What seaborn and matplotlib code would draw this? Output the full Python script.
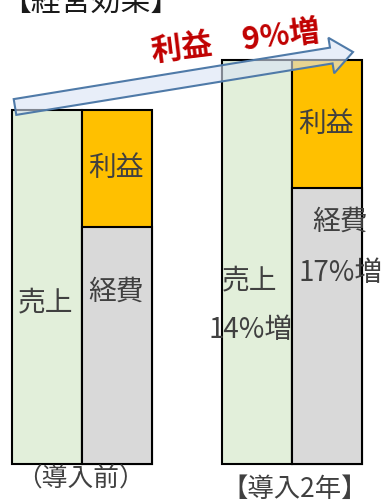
import numpy as np
import pandas as pd
import matplotlib
matplotlib.use("Agg")
import matplotlib.pyplot as plt
import matplotlib.patches as mpatches
import seaborn as sns

sns.set_theme(style="white")
plt.rcParams['font.family'] = ['Noto Sans CJK JP', 'DejaVu Sans']

# bar slots (the empty one is the gap between the two groups)
slots = ["売上(前)", "費用(前)", "", "売上(2年)", "費用(2年)"]
sales_slots = ["売上(前)", "売上(2年)"]
cost_slots = ["費用(前)", "費用(2年)"]

sales = [100, 114]   # 売上
expense = [67, 78]   # 経費
profit = [33, 36]    # 利益
total = [e + p for e, p in zip(expense, profit)]

# layout in pixels of the 387x500 picture
X0, X1 = 12, 362       # left edge of first bar, right edge of last bar
BASE = 464             # baseline
PX_PER_UNIT = 3.54

fig = plt.figure(figsize=(3.87, 5.0), dpi=100)
ax = fig.add_axes([0, 0, 1, 1])

kw = dict(order=slots, width=1.0, saturation=1, errorbar=None,
          edgecolor="black", linewidth=1.5, ax=ax)
sns.barplot(x=sales_slots, y=sales, color="#E2EFDA", **kw)
sns.barplot(x=cost_slots, y=total, color="#FFC000", **kw)
sns.barplot(x=cost_slots, y=expense, color="#D9D9D9", **kw)

slot_px = (X1 - X0) / len(slots)
ax.set_xlim(-0.5 - X0 / slot_px, len(slots) - 0.5 + (387 - X1) / slot_px)
ax.set_ylim(-(500 - BASE) / PX_PER_UNIT, BASE / PX_PER_UNIT)
ax.axis("off")

# overlay in pixel coordinates for arrow and labels
ov = fig.add_axes([0, 0, 1, 1], zorder=3)
ov.set_xlim(0, 387)
ov.set_ylim(500, 0)
ov.axis("off")
ov.patch.set_alpha(0)

arrow = mpatches.FancyArrow(15, 107, 338, -55, width=16, head_width=36,
                            head_length=22, length_includes_head=True,
                            facecolor=(0.85, 0.89, 0.96, 0.6),
                            edgecolor="#4F7AA8", linewidth=1.5)
ov.add_patch(arrow)

ov.text(1, 12, "【経営効果】", fontsize=21.5, color="#1a1a1a",
        ha="left", va="baseline")
ov.text(236, 42, "利益　9%増", rotation=7, rotation_mode="anchor",
        color="#C00000", fontsize=22, fontweight="bold",
        ha="center", va="center")

gray = "#404040"
labels = [
    (46, 302, "売上"), (116, 168, "利益"), (116, 292, "経費"),
    (250, 280, "売上"), (251, 330, "14%増"),
    (326, 124, "利益"), (340, 222, "経費"), (341, 273, "17%増"),
]
for x, y, s in labels:
    ov.text(x, y, s, fontsize=20, color=gray, ha="center", va="center")

ov.text(80, 479, "（導入前）", fontsize=18.5, color=gray, ha="center", va="center")
ov.text(295, 489, "【導入2年】", fontsize=19, color=gray, ha="center", va="center")

fig.savefig("out.png", dpi=100)
